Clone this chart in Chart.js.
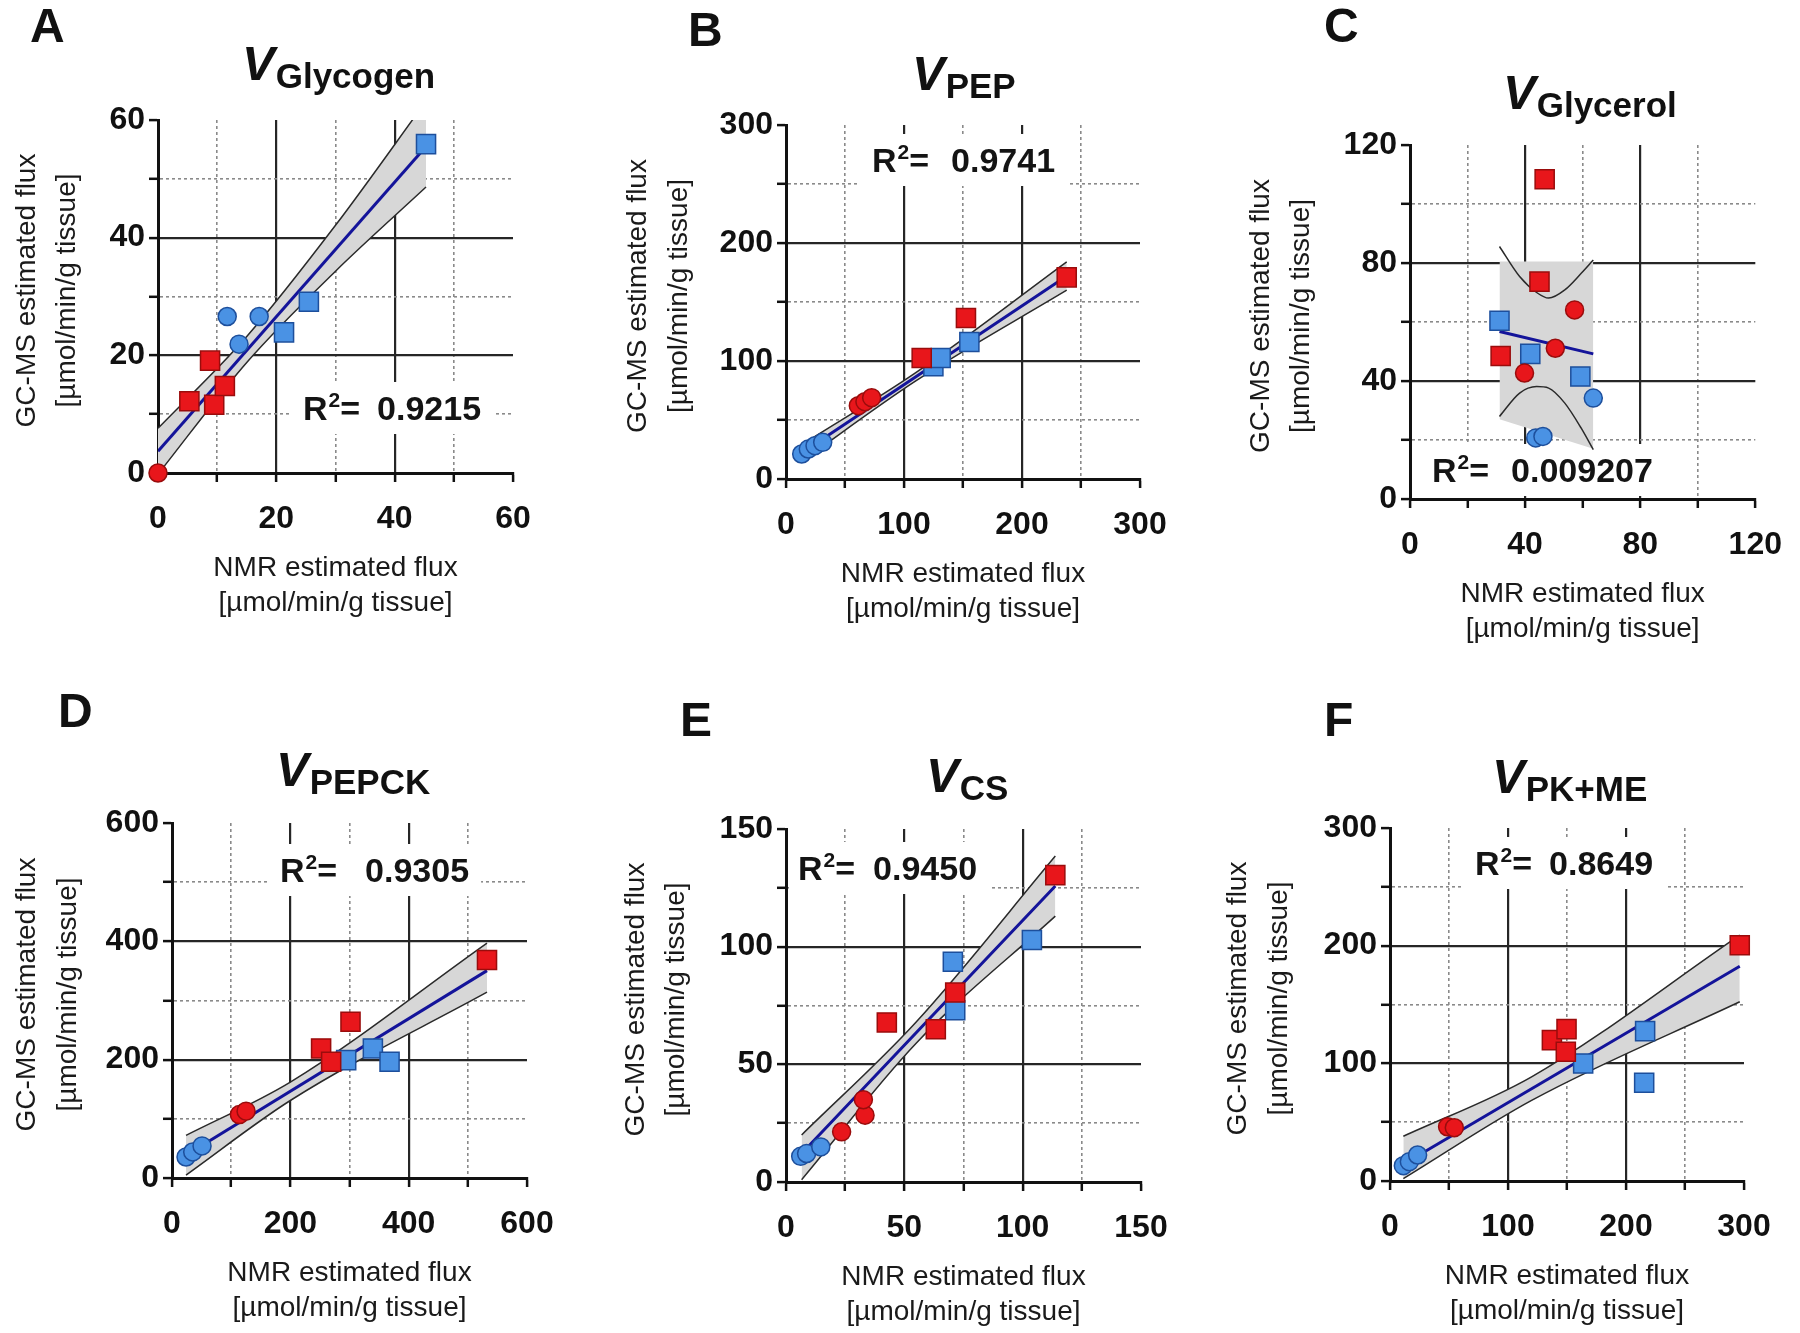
<!DOCTYPE html>
<html><head><meta charset="utf-8">
<script src="https://cdn.jsdelivr.net/npm/chart.js@4.4.1/dist/chart.umd.min.js"></script>
<style>
html,body{margin:0;padding:0;background:#fff;}
#wrap{position:relative;width:1800px;height:1333px;background:#fff;}
#wrap canvas{position:absolute;left:0;top:0;}
</style></head><body><div id="wrap"></div>
<script>
// ---------------- DATA ----------------
// Panel A: V Glycogen
const A_redSquares  = [[5.3,12.2],[8.8,19.1],[9.5,11.6],[11.3,14.8]];
const A_redCircles  = [[0,0]];
const A_blueSquares = [[21.3,23.9],[25.5,29.1],[45.3,55.9]];
const A_blueCircles = [[11.7,26.6],[17.1,26.6],[13.7,21.9]];
const A_fitX = [0, 45.3], A_fitY = [3.7, 55.5];
const A_ciX = [0, 15, 30, 45.3], A_ciLo = [-0.2, 18.8, 34.3, 48.6], A_ciHi = [7.6, 23.2, 42.1, 63.2];
const A_r2 = '0.9215';

// Panel B: V PEP
const B_redSquares  = [[115,102.5],[152.5,136.4],[237.9,170.9]];
const B_redCircles  = [[61.3,62.1],[66.9,65.5],[72.6,68.9]];
const B_blueSquares = [[124.9,95.5],[131.1,102.5],[155.4,116.1]];
const B_blueCircles = [[13.3,21.2],[18.9,25.4],[24.6,28.2],[31.1,31.1]];
const B_fitX = [13.3, 237.9], B_fitY = [22, 172];
const B_ciX = [13.3, 110, 237.9], B_ciLo = [15, 83.1, 160], B_ciHi = [29, 90.1, 184];
const B_r2 = '0.9741';

// Panel C: V Glycerol
const C_redSquares  = [[46.8,108.4],[45.0,73.7],[31.5,48.5]];
const C_redCircles  = [[57.2,64.1],[50.5,51.1],[39.8,42.7]];
const C_blueSquares = [[31.1,60.4],[41.8,49.2],[59.2,41.5]];
const C_blueCircles = [[63.7,34.2],[43.7,20.7],[46.2,21.2]];
const C_fitX = [31.1, 63.7], C_fitY = [56.8, 49.2];
const C_ciX = [31.1, 38.1, 44, 48.2, 53.8, 59.5, 63.7];
const C_ciLo = [28.0, 35.9, 38.1, 37.6, 32.5, 24.0, 16.7];
const C_ciHi = [85.6, 75.4, 70.0, 68.1, 70.9, 76.5, 81.0];
const C_bandX = [31.1, 63.7], C_bandLo = [27, 17], C_bandHi = [80.5, 80.5];
const C_r2 = '0.009207';

// Panel D: V PEPCK
const D_redSquares  = [[252,219],[269,196.5],[301.7,264.1],[532.4,368.5]];
const D_redCircles  = [[113.9,107.2],[125.2,112.9]];
const D_blueSquares = [[294.4,199.2],[339.5,219],[367.7,196.5]];
const D_blueCircles = [[23.7,35.5],[35,44],[50.8,54.2]];
const D_fitX = [23.7, 532.4], D_fitY = [38.4, 350.5];
const D_ciX = [23.7, 200, 532.4], D_ciLo = [5, 131, 314], D_ciHi = [72, 162, 397];
const D_r2 = '0.9305';

// Panel E: V CS
const E_redSquares  = [[42.6,67.8],[63.3,64.9],[71.5,80.5],[113.8,130.4]];
const E_redCircles  = [[23.5,21.3],[33.4,28.4],[32.7,35.0]];
const E_blueSquares = [[70.5,93.6],[71.5,73.0],[103.9,102.8]];
const E_blueCircles = [[6.2,10.9],[8.7,12.1],[14.7,14.9]];
const E_fitX = [6.6, 113.8], E_fitY = [12.1, 125.8];
const E_ciX = [6.6, 55, 113.8], E_ciLo = [1, 59, 113], E_ciHi = [20, 68, 138.5];
const E_r2 = '0.9450';

// Panel F: V PK+ME
const F_redSquares  = [[137.2,119.7],[149.6,129.1],[149,109.8],[296.4,200.4]];
const F_redCircles  = [[48.8,46.1],[54.5,45.3]];
const F_blueSquares = [[163.7,99.9],[216.2,127.4],[215.4,83.5]];
const F_blueCircles = [[11.3,13.0],[16.4,16.4],[23.4,22.1]];
const F_fitX = [11.3, 296.4], F_fitY = [14.2, 182.5];
const F_ciX = [11.3, 120, 296.4], F_ciLo = [2, 68.5, 152.3], F_ciHi = [38, 88.5, 209];
const F_r2 = '0.8649';

// axis titles
const X_TITLE = ['NMR estimated flux', '[µmol/min/g tissue]'];
const Y_TITLE = ['GC-MS estimated flux', '[µmol/min/g tissue]'];

// ---------------- LAYOUT / STYLE ----------------
const FONT = "'Liberation Sans', Arial, Helvetica, sans-serif";
const RED = '#e8161b', RED_B = '#9a0c0c', BLUE = '#4a92e4', BLUE_B = '#1d4f9c';
const pts = arr => arr.map(([x, y]) => ({x, y}));
const xy = (xs, ys) => xs.map((x, i) => ({x, y: ys[i]}));

const panels = [
  {letter:'A', letterPos:[30,42], sub:'Glycogen', titlePos:[242,88], area:{l:158,r:513,t:120,b:473},
   max:60, step:10, major:20, yT:[27,67], r2:A_r2, r2Pos:[303,420], r2Gap:17,
   rs:A_redSquares, rc:A_redCircles, bs:A_blueSquares, bc:A_blueCircles,
   fit:xy(A_fitX,A_fitY), lo:xy(A_ciX,A_ciLo), hi:xy(A_ciX,A_ciHi), bLo:xy(A_ciX,A_ciLo), bHi:xy(A_ciX,A_ciHi)},
  {letter:'B', letterPos:[688,46], sub:'PEP', titlePos:[912,98], area:{l:786,r:1140,t:125,b:479},
   max:300, step:50, major:100, yT:[638,679], r2:B_r2, r2Pos:[872,172], r2Gap:22,
   rs:B_redSquares, rc:B_redCircles, bs:B_blueSquares, bc:B_blueCircles,
   fit:xy(B_fitX,B_fitY), lo:xy(B_ciX,B_ciLo), hi:xy(B_ciX,B_ciHi), bLo:xy(B_ciX,B_ciLo), bHi:xy(B_ciX,B_ciHi)},
  {letter:'C', letterPos:[1324,42], sub:'Glycerol', titlePos:[1503,117], area:{l:1410,r:1766,t:145,b:499},
   max:120, step:20, major:40, yT:[1261,1301], r2:C_r2, r2Pos:[1432,482], r2Gap:22,
   rs:C_redSquares, rc:C_redCircles, bs:C_blueSquares, bc:C_blueCircles,
   fit:xy(C_fitX,C_fitY), lo:xy(C_ciX,C_ciLo), hi:xy(C_ciX,C_ciHi), bLo:xy(C_bandX,C_bandLo), bHi:xy(C_bandX,C_bandHi)},
  {letter:'D', letterPos:[58,727], sub:'PEPCK', titlePos:[276,794], area:{l:172,r:527,t:823,b:1178},
   max:600, step:100, major:200, yT:[27,68], r2:D_r2, r2Pos:[280,882], r2Gap:28,
   rs:D_redSquares, rc:D_redCircles, bs:D_blueSquares, bc:D_blueCircles,
   fit:xy(D_fitX,D_fitY), lo:xy(D_ciX,D_ciLo), hi:xy(D_ciX,D_ciHi), bLo:xy(D_ciX,D_ciLo), bHi:xy(D_ciX,D_ciHi)},
  {letter:'E', letterPos:[680,736], sub:'CS', titlePos:[926,800], area:{l:786,r:1141,t:829,b:1182},
   max:150, step:25, major:50, yT:[636,676], r2:E_r2, r2Pos:[798,880], r2Gap:18,
   rs:E_redSquares, rc:E_redCircles, bs:E_blueSquares, bc:E_blueCircles,
   fit:xy(E_fitX,E_fitY), lo:xy(E_ciX,E_ciLo), hi:xy(E_ciX,E_ciHi), bLo:xy(E_ciX,E_ciLo), bHi:xy(E_ciX,E_ciHi)},
  {letter:'F', letterPos:[1324,736], sub:'PK+ME', titlePos:[1492,801], area:{l:1390,r:1744,t:828,b:1181},
   max:300, step:50, major:100, yT:[1238,1279], r2:F_r2, r2Pos:[1475,875], r2Gap:17,
   rs:F_redSquares, rc:F_redCircles, bs:F_blueSquares, bc:F_blueCircles,
   fit:xy(F_fitX,F_fitY), lo:xy(F_ciX,F_ciLo), hi:xy(F_ciX,F_ciHi), bLo:xy(F_ciX,F_ciLo), bHi:xy(F_ciX,F_ciHi)}
];

const W = 1800, H = 1333, YW = 100, XH = 100;

function textPlugin(p) {
  return {
    id: 'txt' + p.letter,
    beforeDatasetsDraw(chart) {
      const ctx = chart.ctx;
      const [x, y] = p.r2Pos;
      ctx.save();
      ctx.textAlign = 'left'; ctx.textBaseline = 'alphabetic';
      const big = `bold 34px ${FONT}`, small = `bold 21px ${FONT}`;
      ctx.font = big;
      const wR = ctx.measureText('R').width, wEq = ctx.measureText('=').width, wNum = ctx.measureText(p.r2).width;
      ctx.font = small;
      const w2 = ctx.measureText('2').width;
      const total = wR + w2 + 1 + wEq + p.r2Gap + wNum;
      const bl = Math.max(x - 12, chart.chartArea.left + 3);
      ctx.fillStyle = '#fff';
      ctx.fillRect(bl, y - 38, x + total + 12 - bl, 52);
      ctx.fillStyle = '#141414';
      let cx = x;
      ctx.font = big; ctx.fillText('R', cx, y); cx += wR;
      ctx.font = small; ctx.fillText('2', cx + 1, y - 13); cx += w2 + 1;
      ctx.font = big; ctx.fillText('=', cx, y); cx += wEq + p.r2Gap;
      ctx.fillText(p.r2, cx, y);
      ctx.restore();
    },
    afterDraw(chart) {
      const ctx = chart.ctx, a = chart.chartArea;
      ctx.save();
      ctx.fillStyle = '#111';
      ctx.textAlign = 'left'; ctx.textBaseline = 'alphabetic';
      // panel letter
      ctx.font = `bold 48px ${FONT}`;
      ctx.fillText(p.letter, p.letterPos[0], p.letterPos[1]);
      // title V + subscript
      const [tx, ty] = p.titlePos;
      ctx.font = `italic bold 49px ${FONT}`;
      ctx.fillText('V', tx, ty - 8);
      const wV = ctx.measureText('V').width;
      ctx.font = `bold 35px ${FONT}`;
      ctx.fillText(p.sub, tx + wV + 1, ty);
      // x title
      ctx.font = `28px ${FONT}`;
      ctx.fillStyle = '#1a1a1a';
      ctx.textAlign = 'center'; ctx.textBaseline = 'middle';
      const cx = (a.left + a.right) / 2;
      ctx.fillText(X_TITLE[0], cx, a.bottom + 95);
      ctx.fillText(X_TITLE[1], cx, a.bottom + 130);
      // y title
      const cy = (a.top + a.bottom) / 2 - 6;
      for (let i = 0; i < 2; i++) {
        ctx.save();
        ctx.translate(p.yT[i], cy);
        ctx.rotate(-Math.PI / 2);
        ctx.fillText(Y_TITLE[i], 0, 0);
        ctx.restore();
      }
      ctx.restore();
    }
  };
}

function scaleOpts(p, axis) {
  const isMajor = v => Math.abs(v % p.major) < 1e-9;
  return {
    type: 'linear', min: 0, max: p.max,
    ticks: {
      stepSize: p.step, autoSkip: false, maxRotation: 0, minRotation: 0,
      color: '#111', font: {family: FONT, size: 32, weight: 'bold'},
      padding: axis === 'x' ? 18 : 4,
      callback: v => isMajor(v) ? String(v) : ''
    },
    grid: {
      drawTicks: true, tickLength: 9, tickWidth: 2.5, tickColor: '#111',
      color: ctx => {
        const v = ctx.tick ? ctx.tick.value : null;
        if (v === null || v === 0 || v === p.max) return 'rgba(0,0,0,0)';
        return isMajor(v) ? '#262626' : '#8a8a8a';
      },
      lineWidth: ctx => {
        const v = ctx.tick ? ctx.tick.value : 0;
        return isMajor(v) ? 2.2 : 1.6;
      }
    },
    border: {
      display: true, color: '#111', width: 3,
      dash: ctx => {
        const v = ctx.tick ? ctx.tick.value : null;
        if (v === null) return [];
        return isMajor(v) ? [] : [3, 3];
      }
    },
    afterFit: s => { if (axis === 'x') s.height = XH; else s.width = YW; }
  };
}

function pointSet(data, style, fill, border) {
  return {
    data: pts(data), showLine: false, order: 0, clip: false,
    pointStyle: style, pointRadius: style === 'rect' ? 13.5 : 9, pointHoverRadius: style === 'rect' ? 13.5 : 9,
    pointBackgroundColor: fill, pointBorderColor: border, pointBorderWidth: 1.5,
    backgroundColor: fill, borderColor: border
  };
}
function lineSet(data, color, width, order, extra) {
  return Object.assign({
    data, showLine: true, order, pointRadius: 0, pointHoverRadius: 0,
    borderColor: color, borderWidth: width, fill: false,
    cubicInterpolationMode: 'monotone'
  }, extra || {});
}

const wrap = document.getElementById('wrap');
panels.forEach(p => {
  const c = document.createElement('canvas');
  c.width = W; c.height = H;
  c.style.width = W + 'px'; c.style.height = H + 'px';
  wrap.appendChild(c);
  const a = p.area;
  new Chart(c.getContext('2d'), {
    type: 'line',
    data: {
      datasets: [
        pointSet(p.rs, 'rect', RED, RED_B),
        pointSet(p.rc, 'circle', RED, RED_B),
        pointSet(p.bs, 'rect', BLUE, BLUE_B),
        pointSet(p.bc, 'circle', BLUE, BLUE_B),
        lineSet(p.fit, '#14149a', 3, 1),
        lineSet(p.lo, '#2a2a2a', 1.5, 2),
        lineSet(p.hi, '#2a2a2a', 1.5, 2),
        lineSet(p.bLo, 'rgba(0,0,0,0)', 0, 3),
        lineSet(p.bHi, 'rgba(0,0,0,0)', 0, 3, {fill: '-1', backgroundColor: '#d7d7d7'})
      ]
    },
    options: {
      responsive: false, animation: false, devicePixelRatio: 1, events: [],
      layout: {padding: {left: a.l - YW, right: W - a.r, top: a.t, bottom: H - a.b - XH}},
      plugins: {legend: {display: false}, tooltip: {enabled: false}, title: {display: false}},
      scales: {x: scaleOpts(p, 'x'), y: scaleOpts(p, 'y')}
    },
    plugins: [textPlugin(p)]
  });
});
</script>
</body></html>
